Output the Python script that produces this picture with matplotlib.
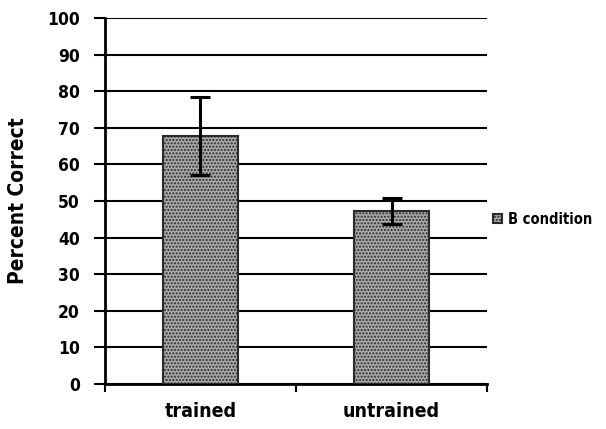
import matplotlib.pyplot as plt
import numpy as np

# data
groups = ['trained', 'untrained']
pct_correct = [67.8, 47.3]
err = [10.6, 3.5]
series_name = 'B condition'
yticks = list(range(0, 101, 10))

plt.rcParams['font.family'] = ['DejaVu Sans']
plt.rcParams['font.stretch'] = 'condensed'
plt.rcParams['font.weight'] = 'bold'

fig = plt.figure(figsize=(6.06, 4.29), dpi=100)
ax = fig.add_axes([0.173, 0.105, 0.631, 0.853])

x = np.arange(len(groups))
ax.bar(x, pct_correct, width=0.39, color='#a8a8a8', edgecolor='#2a2a2a',
       linewidth=1.5, hatch='.....', zorder=3, label=series_name)
ax.errorbar(x, pct_correct, yerr=err, fmt='none', ecolor='black', elinewidth=2.2,
            capsize=7, capthick=2.2, zorder=4)

ax.set_xlim(-0.5, 1.5)
ax.set_ylim(0, 100)
ax.set_yticks(yticks)
ax.set_xticks(x)
ax.set_xticklabels(groups, fontsize=14, fontweight='bold')
ax.tick_params(axis='x', length=0, pad=13)
ax.set_xticks([-0.5, 0.5, 1.5], minor=True)
ax.tick_params(axis='x', which='minor', length=6, width=1.5, direction='out')
ax.tick_params(axis='y', length=8, width=1.5, labelsize=12.5, pad=10)
for lbl in ax.get_yticklabels():
    lbl.set_fontweight('bold')

ax.yaxis.grid(True, color='black', linewidth=1.5)
ax.set_axisbelow(True)
for s in ['top', 'right']:
    ax.spines[s].set_visible(False)
for s in ['left', 'bottom']:
    ax.spines[s].set_linewidth(2)

ax.set_ylabel('Percent Correct', fontsize=15, fontweight='bold', labelpad=14)

ax.legend(loc='center left', bbox_to_anchor=(1.0, 0.45), frameon=False,
          fontsize=10.5, handlelength=0.6, handleheight=0.6, handletextpad=0.4,
          borderaxespad=0.2, borderpad=0.2)

fig.savefig('out.png', dpi=100)
